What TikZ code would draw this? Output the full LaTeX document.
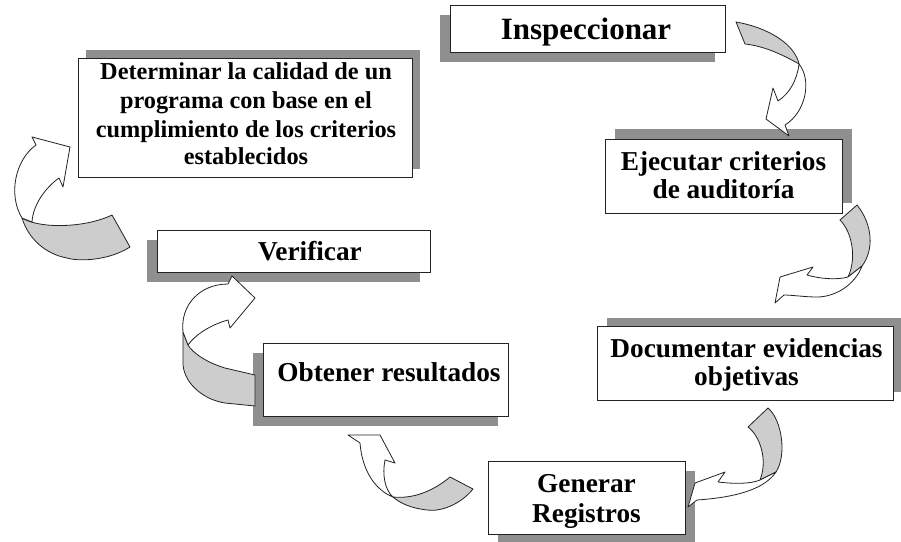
\documentclass[tikz,border=0pt]{standalone}
\usepackage{fontspec}
\setmainfont{Liberation Serif}
\usetikzlibrary{shadows}
\definecolor{shadowgray}{RGB}{143,143,143}
\definecolor{arrowgray}{RGB}{205,205,205}
\definecolor{edgec}{RGB}{35,35,35}
\begin{document}
\begin{tikzpicture}[x=1pt,y=-1pt,
  box/.style={draw=edgec, line width=0.9pt, fill=white, inner sep=0pt},
  shdl/.style={drop shadow={shadow xshift=-10pt, shadow yshift=-10pt, fill=shadowgray, opacity=1}},
  shdr/.style={drop shadow={shadow xshift=10pt, shadow yshift=-10pt, fill=shadowgray, opacity=1}},
  shdru/.style={drop shadow={shadow xshift=10pt, shadow yshift=10pt, fill=shadowgray, opacity=1}},
  lbl/.style={anchor=base, inner sep=0pt, font=\bfseries\fontsize{27.3}{30}\selectfont},
  lblsmall/.style={anchor=base, inner sep=0pt, font=\bfseries\fontsize{24.3}{28}\selectfont},
  lblbig/.style={anchor=base, inner sep=0pt, font=\bfseries\fontsize{31}{34}\selectfont},
  arrw/.style={draw=edgec, line width=0.8pt, line join=round},
  backside/.style={arrw, fill=arrowgray},
  frontside/.style={arrw, fill=white}]
\useasboundingbox (0,0) rectangle (901,541);
\fill[white] (0,0) rectangle (901,541);

% boxes
\node[box, shdl, minimum width=275pt, minimum height=47pt] (insp) at (587.5,28.5) {};
\node[box, shdru, minimum width=237pt, minimum height=74pt] (ejec) at (723.5,176) {};
\node[box, drop shadow={shadow xshift=10pt, shadow yshift=8pt, fill=shadowgray, opacity=1}, minimum width=296pt, minimum height=74pt] (doc) at (745,363) {};
\node[box, shdr, minimum width=197pt, minimum height=73pt] (gen) at (586.5,497.5) {};
\node[box, shdl, minimum width=245pt, minimum height=73pt] (obt) at (385.5,379.5) {};
\node[box, shdl, minimum width=273pt, minimum height=42pt] (ver) at (293.5,251) {};
\node[box, drop shadow={shadow xshift=8pt, shadow yshift=8pt, fill=shadowgray, opacity=1}, minimum width=334pt, minimum height=119pt] (det) at (245,117.5) {};

% texts
\node[lblbig] (tinsp) at (586,39) {Inspeccionar};
\node[lbl] (tejec1) at (723.5,170) {Ejecutar criterios};
\node[lbl] (tejec2) at (723.5,198) {de auditoría};
\node[lbl] (tdoc1) at (746.5,357) {Documentar evidencias};
\node[lbl] (tdoc2) at (746.5,385) {objetivas};
\node[lbl] (tgen1) at (586.5,492) {Generar};
\node[lbl] (tgen2) at (586.5,522) {Registros};
\node[lbl] (tobt) at (389,381) {Obtener resultados};
\node[lbl] (tver) at (310,260) {Verificar};
\node[lblsmall] (tdet1) at (246,79) {Determinar la calidad de un};
\node[lblsmall] (tdet2) at (246,108) {programa con base en el};
\node[lblsmall] (tdet3) at (246,137) {cumplimiento de los criterios};
\node[lblsmall] (tdet4) at (246,164) {establecidos};

% arrow A: Inspeccionar -> Ejecutar
\draw[backside] (736,22) .. controls (770,28) and (795,45) .. (799,64)
  .. controls (785,56) and (765,46) .. (745,44) -- cycle;
\draw[frontside] (799,64) .. controls (812,80) and (806,112) .. (785,125)
  -- (789,136) -- (766,119) -- (773,88) -- (778,101)
  .. controls (790,93) and (797,80) .. (799,64) -- cycle;

% arrow B: Ejecutar -> Documentar
\draw[backside] (840,220) -- (857,205) .. controls (873,225) and (874,250) .. (862,266)
  -- (848,277) .. controls (857,258) and (852,232) .. (840,220) -- cycle;
\draw[frontside] (862,266) .. controls (855,285) and (835,297) .. (817,297)
  .. controls (805,297) and (792,295) .. (784,295) -- (775,303) -- (780,277) -- (813,267) -- (807,275)
  .. controls (820,279) and (838,280) .. (848,277) -- cycle;

% arrow C: Documentar -> Generar
\draw[backside] (748,427) -- (768,408) .. controls (782,420) and (787,455) .. (776,472)
  -- (760,480) .. controls (768,460) and (760,436) .. (748,427) -- cycle;
\draw[frontside] (776,472) .. controls (765,488) and (740,497) .. (697,500)
  -- (688,507) -- (695,483) -- (725,472) -- (718,482)
  .. controls (735,484) and (750,484) .. (760,480) -- cycle;

% arrow D: Generar -> Obtener
\draw[backside] (450,477) -- (473,489) .. controls (460,505) and (440,512) .. (427,510)
  .. controls (410,508) and (400,503) .. (393,497)
  .. controls (412,499) and (432,492) .. (450,477) -- cycle;
\draw[frontside] (393,497) .. controls (375,490) and (362,470) .. (360,443)
  -- (348,435) -- (380,435) -- (395,463) -- (385,460)
  .. controls (382,475) and (385,490) .. (393,497) -- cycle;

% arrow E: Obtener -> Verificar
\draw[backside] (183,332) -- (183,365) .. controls (185,385) and (205,400) .. (225,403)
  -- (255,406) -- (255,375) -- (225,368) .. controls (205,362) and (192,352) .. (188,345) -- cycle;
\draw[frontside] (183,332) .. controls (180,305) and (200,284) .. (228,284)
  -- (232,276) -- (255,298) -- (230,328) -- (228,320)
  .. controls (210,325) and (195,335) .. (188,345) -- cycle;

% arrow F: Verificar -> Determinar
\draw[backside] (112,215) -- (130,247) .. controls (110,260) and (80,262) .. (67,258)
  .. controls (45,254) and (28,238) .. (22,218)
  .. controls (40,229) and (85,228) .. (112,215) -- cycle;
\draw[frontside] (22,218) .. controls (8,195) and (15,160) .. (36,145)
  -- (32,137) -- (70,147) -- (63,187) -- (59,178)
  .. controls (45,188) and (33,205) .. (32,222) -- cycle;
\end{tikzpicture}
\end{document}
